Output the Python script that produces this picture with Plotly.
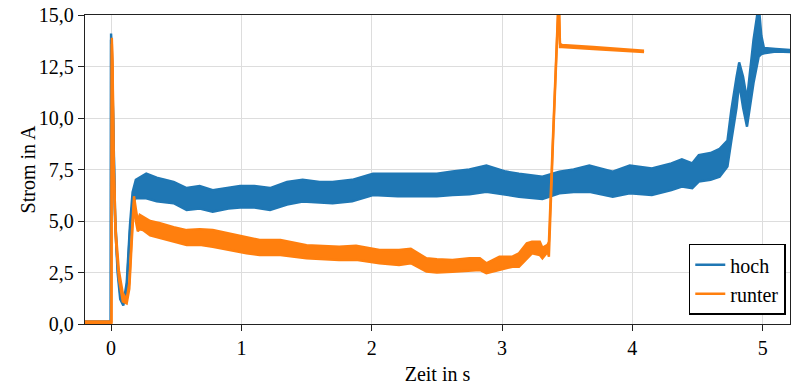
import plotly.graph_objects as go

# ---- data ----
hoch_t = [-0.2, -0.002, 0.0, 0.005, 0.016, 0.031, 0.05, 0.07, 0.094, 0.12, 0.145, 0.165, 0.19, 0.22,
          0.27, 0.35, 0.48, 0.58, 0.68, 0.78, 0.9, 0.99, 1.1, 1.22, 1.35, 1.47, 1.6, 1.7, 1.85, 2.01,
          2.2, 2.37, 2.5, 2.62, 2.75, 2.88, 3.03, 3.13, 3.31, 3.44, 3.55, 3.67, 3.85, 3.98, 4.15, 4.3,
          4.38, 4.46, 4.51, 4.6, 4.67, 4.73, 4.76, 4.8, 4.82, 4.85, 4.88, 4.93, 4.97, 4.99, 5.01, 5.1, 5.21]
hoch_hi = [0.12, 0.12, 14.1, 13.5, 10.1, 5.3, 2.8, 1.5, 1.0, 2.0, 4.8, 6.4, 7.0, 7.1,
           7.3, 7.1, 6.9, 6.6, 6.7, 6.5, 6.6, 6.7, 6.7, 6.6, 6.9, 7.0, 6.9, 6.9, 7.0, 7.3,
           7.3, 7.3, 7.3, 7.4, 7.5, 7.7, 7.4, 7.3, 7.15, 7.4, 7.5, 7.7, 7.4, 7.7, 7.55, 7.8,
           8.0, 7.8, 8.2, 8.3, 8.5, 8.9, 10.4, 12.0, 12.7, 12.0, 10.9, 13.8, 15.5, 14.0, 13.4, 13.35, 13.3]
hoch_lo = [0.05, 0.05, 13.8, 13.2, 9.8, 5.0, 2.5, 1.2, 0.9, 1.7, 4.5, 5.9, 6.1, 6.1,
           6.1, 5.95, 5.86, 5.53, 5.6, 5.45, 5.6, 5.65, 5.65, 5.53, 5.8, 5.94, 5.9, 5.86, 5.95, 6.26,
           6.2, 6.18, 6.2, 6.26, 6.3, 6.42, 6.26, 6.18, 6.07, 6.34, 6.4, 6.42, 6.18, 6.34, 6.26, 6.5,
           6.67, 6.59, 6.91, 7.0, 7.15, 7.64, 8.9, 10.5, 11.7, 10.5, 9.58, 11.7, 12.98, 13.1, 13.14, 13.22, 13.2]

runter_t = [-0.2, 0.003, 0.006, 0.012, 0.02, 0.035, 0.06, 0.09, 0.12, 0.14, 0.16, 0.176, 0.19, 0.205,
            0.22, 0.245, 0.3, 0.375, 0.48, 0.58, 0.68, 0.78, 0.9, 1.04, 1.14, 1.3, 1.5, 1.75, 1.88,
            2.06, 2.21, 2.3, 2.42, 2.5, 2.62, 2.75, 2.83, 2.88, 2.98, 3.08, 3.13, 3.19, 3.23, 3.29,
            3.31, 3.35, 3.36, 3.39, 3.415, 3.435, 3.445, 3.46, 3.7, 4.09]
runter_hi = [0.12, 0.12, 13.9, 12.5, 8.0, 4.6, 2.6, 1.5, 1.2, 2.0, 4.5, 6.2, 5.6, 5.0,
             5.3, 5.2, 5.0, 4.89, 4.7, 4.56, 4.6, 4.56, 4.4, 4.24, 4.08, 4.08, 3.83, 3.75, 3.8,
             3.6, 3.59, 3.65, 3.19, 3.15, 3.11, 3.2, 3.19, 2.95, 3.27, 3.27, 3.43, 3.92, 4.0, 4.0,
             3.7, 3.85, 4.0, 8.93, 13.3, 16.0, 13.6, 13.55, 13.45, 13.27]
runter_lo = [0.05, 0.05, 13.6, 12.2, 7.6, 4.2, 2.2, 1.1, 1.0, 1.7, 4.1, 5.9, 5.0, 4.5,
             4.6, 4.56, 4.3, 4.16, 4.0, 3.83, 3.85, 3.75, 3.6, 3.43, 3.35, 3.35, 3.19, 3.11, 3.11,
             2.95, 2.86, 2.95, 2.54, 2.5, 2.54, 2.6, 2.62, 2.46, 2.62, 2.78, 2.78, 3.19, 3.43, 3.35,
             3.19, 3.5, 3.27, 8.6, 13.0, 15.8, 13.45, 13.45, 13.35, 13.2]

x_ticks = [0, 1, 2, 3, 4, 5]
x_labels = ["0", "1", "2", "3", "4", "5"]
y_ticks = [0, 2.5, 5, 7.5, 10, 12.5, 15]
y_labels = ["0,0", "2,5", "5,0", "7,5", "10,0", "12,5", "15,0"]

BLUE = "#1f77b4"
ORANGE = "#ff7f0e"
FONT = "'Liberation Serif', 'DejaVu Serif', 'Times New Roman', serif"
FS = 20

fig = go.Figure()
for name, t, hi, lo, col in [("hoch", hoch_t, hoch_hi, hoch_lo, BLUE),
                             ("runter", runter_t, runter_hi, runter_lo, ORANGE)]:
    fig.add_trace(go.Scatter(x=t, y=hi, mode="lines", name=name, legendgroup=name,
                             line=dict(color=col, width=2.4)))
    fig.add_trace(go.Scatter(x=t, y=lo, mode="lines", name=name, legendgroup=name,
                             showlegend=False, fill="tonexty", fillcolor=col,
                             line=dict(color=col, width=2.4)))

axis_common = dict(showline=True, linecolor="#222222", linewidth=1.3, mirror=True,
                   ticks="outside", ticklen=6, tickwidth=1.2, tickcolor="#222222",
                   showgrid=True, gridcolor="#dddddd", gridwidth=1.3, zeroline=False,
                   automargin=False,
                   tickfont=dict(family=FONT, size=FS, color="black"))

fig.update_xaxes(range=[-0.2, 5.21], tickvals=x_ticks, ticktext=x_labels,
                 title=dict(text="Zeit in s", font=dict(family=FONT, size=FS, color="black"),
                            standoff=8), **axis_common)
fig.update_yaxes(range=[0, 15], tickvals=y_ticks, ticktext=y_labels, **axis_common)

# y-axis title placed as a rotated annotation to match the reference position
fig.add_annotation(text="Strom in A", xref="paper", yref="paper", x=-0.081, y=0.5,
                   xanchor="center", yanchor="middle", textangle=-90, showarrow=False,
                   font=dict(family=FONT, size=FS, color="black"))

fig.update_layout(
    width=791, height=387,
    margin=dict(l=85, r=1, t=15, b=63),
    plot_bgcolor="white", paper_bgcolor="white",
    font=dict(family=FONT, size=FS, color="black"),
    legend=dict(x=0.994, y=0.03, xanchor="right", yanchor="bottom",
                bgcolor="white", bordercolor="black", borderwidth=1.5,
                font=dict(family=FONT, size=FS, color="black"),
                tracegroupgap=0),
    showlegend=True,
)

fig.write_html("out.html", config={"displayModeBar": False},
               post_script="document.body.style.margin='0px';document.body.style.padding='0px';")
